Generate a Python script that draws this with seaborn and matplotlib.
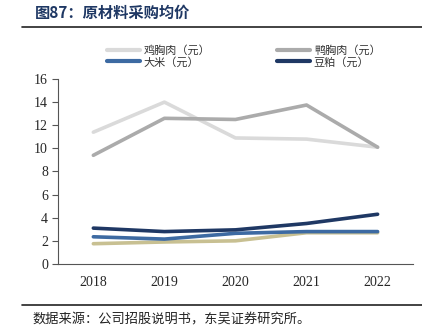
import matplotlib
matplotlib.use("Agg")
import matplotlib.pyplot as plt
from matplotlib.lines import Line2D
import seaborn as sns
import pandas as pd

years = ["2018", "2019", "2020", "2021", "2022"]
chicken = [11.4, 14.0, 10.9, 10.8, 10.1]
duck = [9.4, 12.6, 12.5, 13.75, 10.1]
rice = [2.35, 2.15, 2.65, 2.8, 2.8]
soymeal = [3.1, 2.8, 2.95, 3.5, 4.3]
other_vals = [1.75, 1.9, 2.0, 2.7, 2.7]

labels = ["鸡胸肉（元）", "鸭胸肉（元）", "大米（元）", "豆粕（元）", "其他"]
colors = ["#DADADA", "#ABABAB", "#3D6AA2", "#1F3864", "#C8C092"]
series = [chicken, duck, rice, soymeal, other_vals]

rows = []
for name, vals in zip(labels, series):
    for i, v in enumerate(vals):
        rows.append({"pos": i, "value": v, "name": name})
df = pd.DataFrame(rows)

sns.set_style("white")
plt.rcParams["font.family"] = ["Noto Sans CJK SC", "DejaVu Sans"]

fig = plt.figure(figsize=(4.22, 3.32), dpi=100)
ax = fig.add_axes([0.137, 0.205, 0.842, 0.557])

draw_order = [4, 2, 3, 0, 1]
for k in draw_order:
    sub = df[df["name"] == labels[k]]
    sns.lineplot(data=sub, x="pos", y="value", color=colors[k], lw=2.6,
                 ax=ax, legend=False, solid_capstyle="round")

ax.set_xlim(-0.5, 4.5)
ax.set_ylim(0, 16)
ax.set_yticks(range(0, 17, 2))
ax.set_yticklabels([str(v) for v in range(0, 17, 2)],
                   family="Liberation Serif", fontsize=10)
ax.set_xticks(range(5))
ax.set_xticklabels(years, family="Liberation Serif", fontsize=10)
ax.set_xticks([i + 0.5 for i in range(-1, 5)], minor=True)
ax.tick_params(axis="x", which="major", length=0, pad=9)
ax.tick_params(axis="x", which="minor", length=4, color="#555555", width=0.8, direction="out")
ax.tick_params(axis="y", length=4, color="#555555", width=0.8, direction="out", pad=3, left=True)
ax.set_xlabel("")
ax.set_ylabel("")
for s in ["top", "right"]:
    ax.spines[s].set_visible(False)
for s in ["left", "bottom"]:
    ax.spines[s].set_color("#555555")
    ax.spines[s].set_linewidth(0.8)

# legend rows: chicken/duck on top, rice/soymeal below (column-major fill)
legend_order = [0, 2, 1, 3]
handles = [Line2D([], [], color=colors[k], lw=3) for k in legend_order]
leg = fig.legend(handles, [labels[k] for k in legend_order], ncol=2, loc="upper left",
                 bbox_to_anchor=(0.23, 0.895), frameon=False,
                 fontsize=8, handlelength=3.0, handletextpad=0.3,
                 columnspacing=6.0, labelspacing=0.1)
for t in leg.get_texts():
    t.set_color("#333333")

fig.text(0.083, 0.962, "图87：原材料采购均价", fontsize=11, fontweight="bold",
         color="#1F3864", va="center", ha="left")
fig.add_artist(Line2D([0.052, 1.0], [0.918, 0.918], color="#222222", lw=1.2))
fig.add_artist(Line2D([0.052, 1.0], [0.082, 0.082], color="#222222", lw=1.2))
fig.text(0.078, 0.035, "数据来源：公司招股说明书，东吴证券研究所。", fontsize=9.5,
         color="#222222", va="center", ha="left")

fig.savefig("out.png", dpi=100)
